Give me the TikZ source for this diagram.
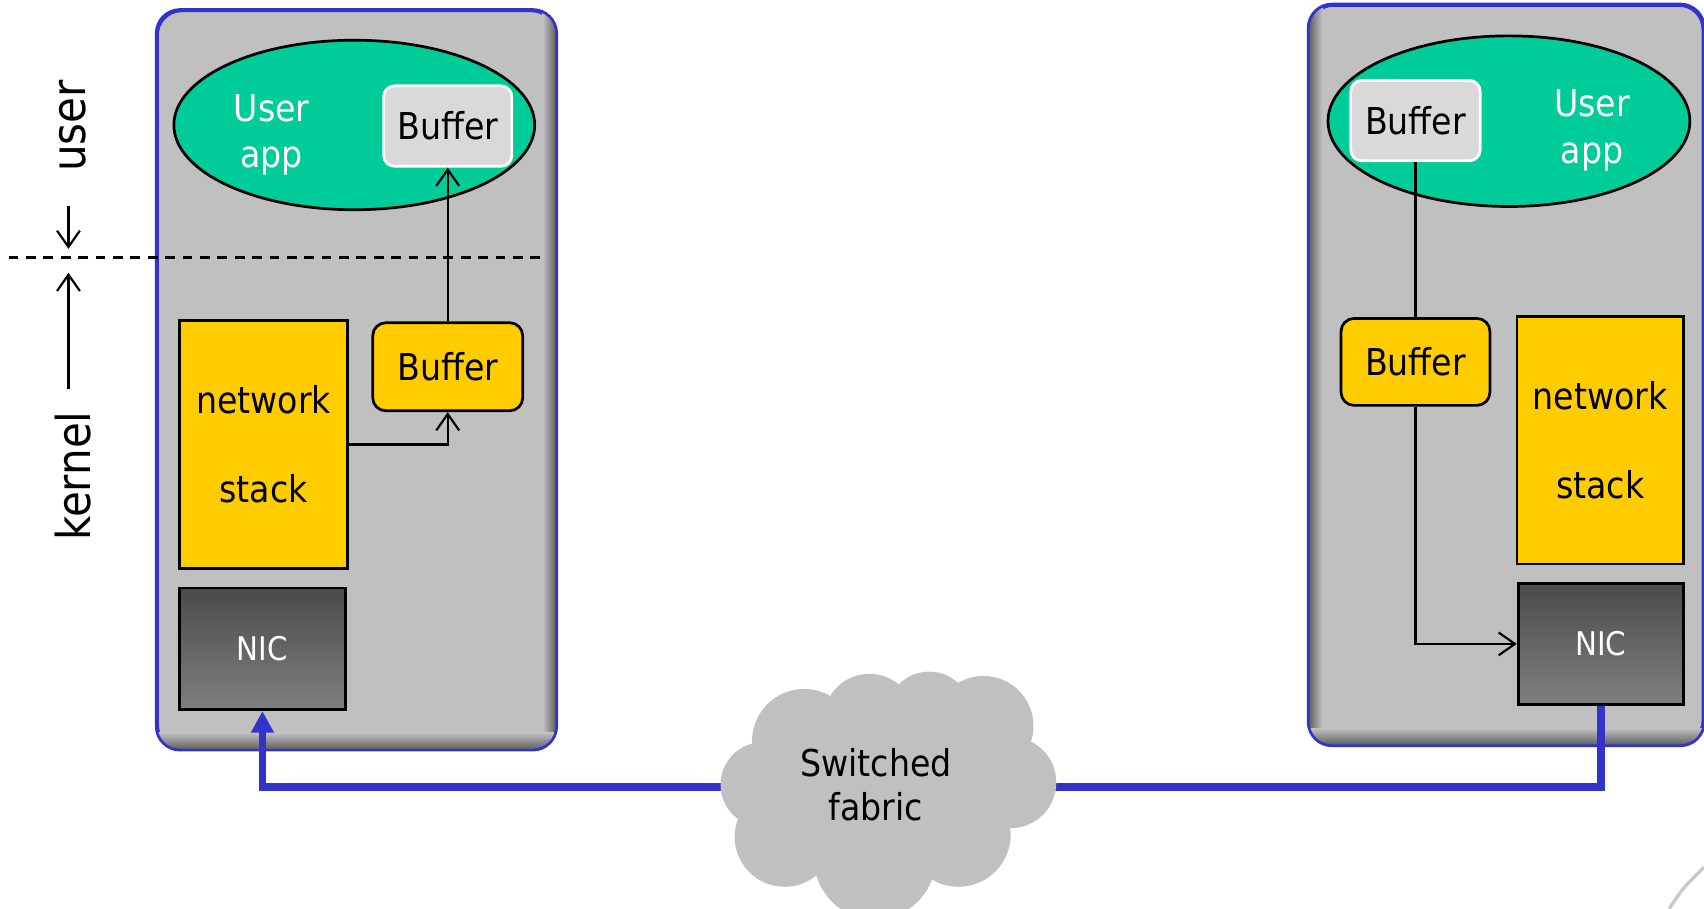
\documentclass[tikz,border=0pt]{standalone}
\usepackage{fontspec}
\setmainfont{DejaVu Sans Condensed}
\usetikzlibrary{arrows.meta,calc,shapes.geometric}

\definecolor{hostgray}{HTML}{C0C0C0}
\definecolor{hostblue}{HTML}{3333CC}
\definecolor{appgreen}{HTML}{00CC99}
\definecolor{bufgray}{HTML}{D9D9D9}
\definecolor{kernyellow}{HTML}{FFCC00}
\definecolor{nictop}{HTML}{4A4A4A}
\definecolor{nicbot}{HTML}{808080}
\definecolor{shadowdark}{HTML}{5A5A5A}

\tikzset{
  dims/.style 2 args={minimum width=#1pt, minimum height=#2pt},
  hostbox/.style={draw=hostblue, line width=2.5pt, fill=hostgray, rounded corners=22pt, inner sep=0pt},
  hostedge/.style={draw=hostblue, line width=2.5pt, rounded corners=22pt},
  appshape/.style={ellipse, draw=black, line width=2.5pt, fill=appgreen, inner sep=0pt},
  apptext/.style={text=white, align=center, font=\fontsize{34}{43}\selectfont},
  userbuf/.style={draw=white, line width=2.5pt, fill=bufgray, rounded corners=10pt, inner sep=0pt, font=\fontsize{34}{40}\selectfont},
  kernbuf/.style={draw=black, line width=2.5pt, fill=kernyellow, rounded corners=12pt, inner sep=0pt, font=\fontsize{34}{40}\selectfont},
  stackbox/.style={draw=black, line width=2.5pt, fill=kernyellow, inner sep=0pt, align=center, font=\fontsize{34}{82}\selectfont},
  nicbox/.style={draw=black, line width=2.5pt, top color=nictop, bottom color=nicbot, inner sep=0pt, text=white, font=\fontsize{30}{36}\selectfont},
  flow/.style={draw=black, line width=2pt},
  openarrow/.style={flow, -{Straight Barb[length=15pt, width=21pt, line width=2pt]}},
  wire/.style={draw=hostblue, line width=7pt},
  layerlabel/.style={rotate=90, font=\fontsize{43}{50}\selectfont},
  fabricpuff/.style={fill=hostgray, draw=none},
}

\begin{document}
\begin{tikzpicture}[x=1pt, y=-1pt]
\useasboundingbox (0,0) rectangle (1568,836);

% ---------- left host ----------
\node[hostbox, dims={366}{679}] (lbox) at (328,349.5) {};
\begin{scope}
  \clip[rounded corners=22pt] (lbox.south west) rectangle (lbox.north east);
  \shade[left color=hostgray, right color=shadowdark] ($(lbox.north east)+(-13,0)$) rectangle (lbox.south east);
  \shade[top color=hostgray, bottom color=shadowdark] ($(lbox.south west)+(0,-16)$) rectangle (lbox.south east);
\end{scope}
\draw[hostedge] (lbox.south west) rectangle (lbox.north east);

\node[appshape, dims={332}{156}] (lapp) at (326,115) {};
\node[apptext] (lapptxt) at (250,124) {User\\app};
\node[userbuf, dims={118}{74}] (lub) at (412,116) {Buffer};
\node[kernbuf, dims={138}{81}] (lkb) at (412,337.5) {Buffer};
\node[stackbox, dims={155}{228}] (lns) at (242.5,409) {network\\stack};
\node[nicbox, dims={153}{112}] (lnic) at (241.5,597) {NIC};

\draw[openarrow] (lns.east) -| (lkb.south);
\draw[openarrow] (lkb.north) -- (lub.south);

% ---------- right host ----------
\node[hostbox, dims={362}{680}] (rbox) at (1386,345) {};
\begin{scope}
  \clip[rounded corners=22pt] (rbox.south west) rectangle (rbox.north east);
  \shade[left color=shadowdark, right color=hostgray] (rbox.north west) rectangle ($(rbox.south west)+(13,0)$);
  \shade[top color=hostgray, bottom color=shadowdark] ($(rbox.south west)+(0,-16)$) rectangle (rbox.south east);
\end{scope}
\draw[hostedge] (rbox.south west) rectangle (rbox.north east);

\node[appshape, dims={333}{157}] (rapp) at (1388.5,111.5) {};
\node[apptext] (rapptxt) at (1465,120) {User\\app};
\node[userbuf, dims={119}{74}] (rub) at (1302.5,111) {Buffer};
\node[kernbuf, dims={137}{80}] (rkb) at (1302.5,333) {Buffer};
\node[stackbox, dims={153}{228}] (rns) at (1472.5,405) {network\\stack};
\node[nicbox, dims={152}{111}] (rnic) at (1473,592.5) {NIC};

\draw[flow] (rub.south) -- (rkb.north);
\draw[openarrow] (rkb.south) |- (rnic.west);

% ---------- user / kernel boundary ----------
\coordinate (dashL) at (8,237);
\coordinate (dashR) at (497,237);
\draw[line width=2pt, dash pattern=on 9pt off 7pt] (dashL) -- (dashR);

\node[layerlabel] (userlbl) at (67,116) {user};
\node[layerlabel] (kernlbl) at (67,438) {kernel};
\coordinate (uarrA) at (63,190);
\coordinate (uarrB) at (63,229);
\coordinate (karrA) at (63,358);
\coordinate (karrB) at (63,251);
\draw[openarrow] (uarrA) -- (uarrB);
\draw[openarrow] (karrA) -- (karrB);

% ---------- switched fabric ----------
\coordinate (fabW) at (690,724);
\coordinate (fabE) at (945,724);
\draw[wire, -{Triangle[length=20pt, width=20pt]}] (fabW) -| (lnic.south);
\draw[wire] (fabE) -| (rnic.south);

\fill[fabricpuff] (740,682) circle (48);
\fill[fabricpuff] (702,722) circle (39);
\fill[fabricpuff] (722,770) circle (46);
\fill[fabricpuff] (805,790) circle (56);
\fill[fabricpuff] (882,768) circle (48);
\fill[fabricpuff] (930,720) circle (42);
\fill[fabricpuff] (905,668) circle (46);
\fill[fabricpuff] (855,657) circle (39);
\fill[fabricpuff] (800,662) circle (42);
\fill[fabricpuff] (815,725) ellipse (115 and 72);
\node[align=center, font=\fontsize{34}{41}\selectfont] (fabric) at (806,722) {Switched\\fabric};

% faint swoosh at the lower right corner
\coordinate (swA) at (1536,836);
\coordinate (swB) at (1568,798);
\draw[line width=3pt, color=hostblue!15!gray!40] (swA) .. controls (1548,818) .. (swB);
\end{tikzpicture}
\end{document}
